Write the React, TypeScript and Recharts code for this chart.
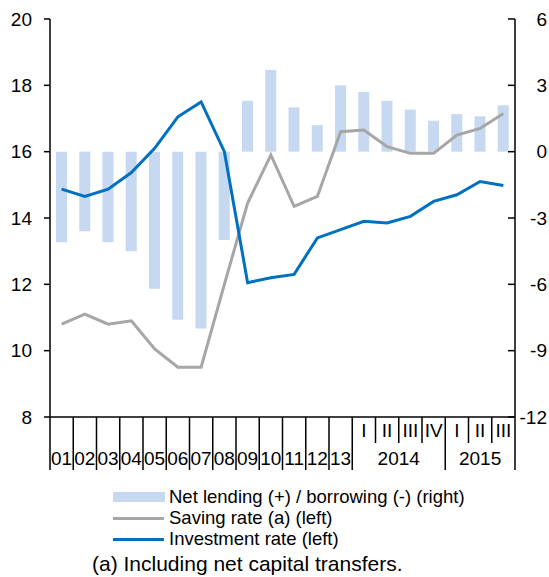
import React from "react";
import {
    ComposedChart,
    Bar,
    Line,
    XAxis,
    YAxis,
} from "recharts";

const periods = ["01", "02", "03", "04", "05", "06", "07", "08", "09", "10", "11", "12", "13", "I", "II", "III", "IV", "I", "II", "III"];
const periodYears = ["", "", "", "", "", "", "", "", "", "", "", "", "", "2014", "2014", "2014", "2014", "2015", "2015", "2015"];
const netLending = [-4.1, -3.6, -4.1, -4.5, -6.2, -7.6, -8.0, -4.0, 2.3, 3.7, 2.0, 1.2, 3.0, 2.7, 2.3, 1.9, 1.4, 1.7, 1.6, 2.1];
const savingRate = [10.8, 11.1, 10.8, 10.9, 10.05, 9.5, 9.5, 12.0, 14.45, 15.9, 14.35, 14.65, 16.6, 16.65, 16.15, 15.95, 15.95, 16.5, 16.7, 17.15];
const investmentRate = [14.87, 14.65, 14.87, 15.37, 16.1, 17.05, 17.5, 16.0, 12.05, 12.2, 12.3, 13.4, 13.65, 13.9, 13.85, 14.05, 14.5, 14.7, 15.1, 14.98];
const leftTicks = [8, 10, 12, 14, 16, 18, 20];
const rightTicks = [-12, -9, -6, -3, 0, 3, 6];

const FONT = "'Liberation Sans', Arial, sans-serif";
const BAR_COLOR = "#c6d9f0";
const SAVING_COLOR = "#a6a6a6";
const INVEST_COLOR = "#0070c0";

const data = periods.map((p, i) => ({
    id: periodYears[i] + p + i,
    net: netLending[i],
    saving: savingRate[i],
    investment: investmentRate[i],
}));
const ids = data.map((d) => d.id);

const PLOT_W = 465;
const BAND = PLOT_W / periods.length;

function PeriodTick(props: any) {
    const { x, y, payload } = props;
    let i = typeof props.index === "number" ? props.index : ids.indexOf(payload.value);
    if (i < 0) i = ids.indexOf(payload.value);
    const year = periodYears[i];
    const isQuarter = year !== "";
    const first = !isQuarter || periodYears[i - 1] !== year;
    const left = x - BAND / 2;
    const ln = { stroke: "#000", strokeWidth: 1.5 };
    const txt = { fontSize: 19, fill: "#000", fontFamily: FONT, textAnchor: "middle" as const };
    const count = periodYears.filter((v) => v === year).length;
    return (
        <g>
            <line x1={left} x2={left} y1={y} y2={y + (first ? 53 : 26)} {...ln} />
            {i === periods.length - 1 && (
                <line x1={x + BAND / 2} x2={x + BAND / 2} y1={y} y2={y + 53} {...ln} />
            )}
            {isQuarter ? (
                <text x={x} y={y + 20} {...txt}>{periods[i]}</text>
            ) : (
                <text x={x} y={y + 48} {...txt}>{periods[i]}</text>
            )}
            {isQuarter && first && (
                <text x={x + ((count - 1) / 2) * BAND} y={y + 48} {...txt}>{year}</text>
            )}
        </g>
    );
}

function RightTick(props: any) {
    const { x, y, payload } = props;
    return (
        <g>
            <line x1={x - 7} x2={x} y1={y} y2={y} stroke="#000" strokeWidth={1.5} />
            <text x={x + 32} y={y} dy="0.355em" textAnchor="end" fontSize={19} fill="#000" fontFamily={FONT}>
                {payload.value}
            </text>
        </g>
    );
}

function LegendRow(props: { top: number; swatch: React.ReactNode; label: string }) {
    return (
        <div style={{ position: "absolute", left: 113, top: props.top - 11, height: 22, display: "flex", alignItems: "center" }}>
            <div style={{ width: 52, display: "flex", alignItems: "center" }}>{props.swatch}</div>
            <span style={{ marginLeft: 4, fontSize: 18.5, whiteSpace: "nowrap" }}>{props.label}</span>
        </div>
    );
}

export default function App() {
    return (
        <div style={{ position: "absolute", left: 0, top: 0, width: 549, height: 577, fontFamily: FONT, color: "#000", background: "#fff" }}>
            <ComposedChart
                width={549}
                height={480}
                data={data}
                margin={{ top: 19, right: 0, bottom: 0, left: 0 }}
                barGap={0}
                style={{ fontFamily: FONT }}
            >
                <XAxis
                    dataKey="id"
                    interval={0}
                    height={63}
                    tickLine={false}
                    tickSize={0}
                    tickMargin={0}
                    axisLine={{ stroke: "#000", strokeWidth: 1.5 }}
                    tick={<PeriodTick />}
                />
                <YAxis
                    yAxisId="left"
                    width={50}
                    domain={[8, 20]}
                    ticks={leftTicks}
                    interval={0}
                    tickSize={6}
                    tickMargin={12}
                    axisLine={{ stroke: "#000", strokeWidth: 1.5 }}
                    tickLine={{ stroke: "#000", strokeWidth: 1.5 }}
                    tick={{ fontSize: 19, fill: "#000", fontFamily: FONT }}
                />
                <YAxis
                    yAxisId="right"
                    orientation="right"
                    width={34}
                    domain={[-12, 6]}
                    ticks={rightTicks}
                    interval={0}
                    tickSize={0}
                    tickMargin={0}
                    tickLine={false}
                    axisLine={{ stroke: "#000", strokeWidth: 1.5 }}
                    tick={<RightTick />}
                />
                <Bar yAxisId="right" dataKey="net" fill={BAR_COLOR} barSize={11} isAnimationActive={false} />
                <Line yAxisId="left" dataKey="saving" stroke={SAVING_COLOR} strokeWidth={3} dot={false} type="linear" isAnimationActive={false} />
                <Line yAxisId="left" dataKey="investment" stroke={INVEST_COLOR} strokeWidth={3} dot={false} type="linear" isAnimationActive={false} />
            </ComposedChart>
            <LegendRow top={497} label="Net lending (+) / borrowing (-) (right)" swatch={<div style={{ width: 52, height: 10, background: BAR_COLOR }} />} />
            <LegendRow top={518} label="Saving rate (a) (left)" swatch={<div style={{ width: 51, height: 3, background: SAVING_COLOR }} />} />
            <LegendRow top={539} label="Investment rate (left)" swatch={<div style={{ width: 51, height: 3, background: INVEST_COLOR }} />} />
            <div style={{ position: "absolute", left: 92, top: 552, height: 24, lineHeight: "24px", fontSize: 21, whiteSpace: "nowrap" }}>
                (a) Including net capital transfers.
            </div>
        </div>
    );
}
